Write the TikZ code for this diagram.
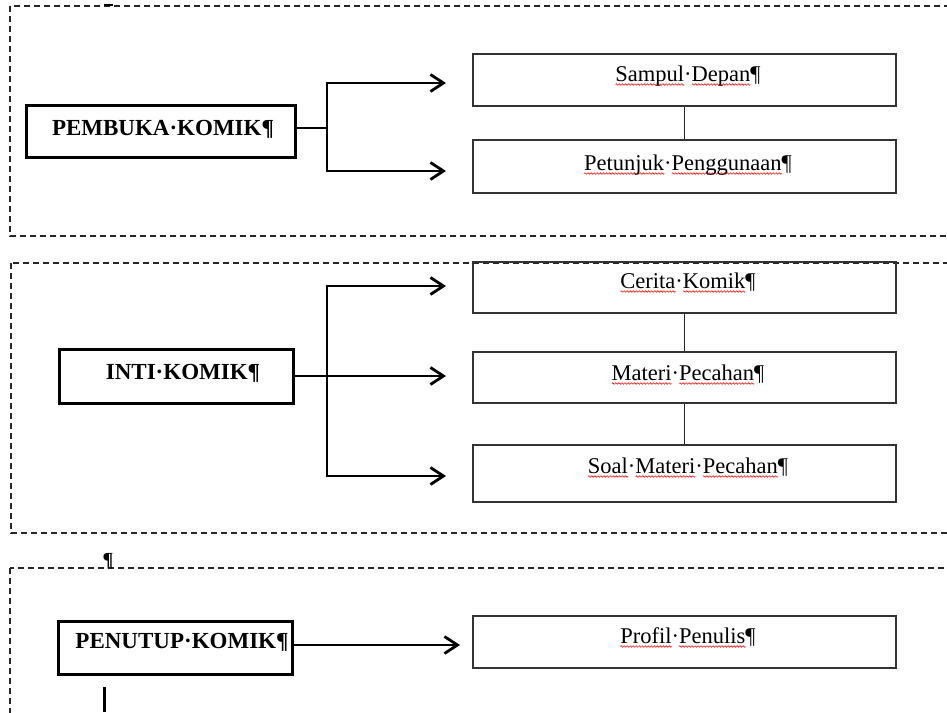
\documentclass[tikz,border=0pt]{standalone}
\usepackage{fontspec}
\setmainfont{Liberation Serif}
\usetikzlibrary{arrows.meta}
\newsavebox\wavebox
\newsavebox\wordbox
\newcommand\rw[1]{\sbox\wordbox{#1}\rlap{\raisebox{-4.5pt}{\hbox to\wd\wordbox{\xleaders\copy\wavebox\hfil}}}#1}
\tikzset{
  dbox/.style={draw=black!85, line width=1.2pt, dash pattern=on 6pt off 4pt},
  mainbox/.style={draw=black, line width=3pt, rectangle, inner sep=0pt, minimum width=234pt},
  subbox/.style={draw=black!80, line width=1.5pt, rectangle, inner sep=0pt, minimum width=423pt},
  lbl/.style={anchor=base, inner sep=0pt, font=\fontsize{22.5}{24}\selectfont},
  blbl/.style={anchor=base, inner sep=0pt, font=\fontsize{23}{24}\selectfont\bfseries},
  conn/.style={line width=2.8pt, draw=black},
  arr/.style={conn, -{Straight Barb[length=13pt,width=17pt,line width=2.8pt]}},
  link/.style={line width=1.4pt, draw=black!85}
}
\begin{document}
\sbox\wavebox{\begin{pgfpicture}%
\pgfpathrectangle{\pgfpoint{0pt}{-1pt}}{\pgfpoint{3pt}{2pt}}\pgfusepath{use as bounding box}%
\pgfsetlinewidth{0.6pt}\pgfsetstrokecolor{red}%
\pgfpathmoveto{\pgfpoint{0pt}{0pt}}%
\pgfpathsine{\pgfpoint{0.75pt}{0.8pt}}\pgfpathcosine{\pgfpoint{0.75pt}{-0.8pt}}%
\pgfpathsine{\pgfpoint{0.75pt}{-0.8pt}}\pgfpathcosine{\pgfpoint{0.75pt}{0.8pt}}%
\pgfusepath{stroke}%
\end{pgfpicture}}%
\begin{tikzpicture}[x=1pt,y=-1pt]
\useasboundingbox (0,0) rectangle (947,712);
\clip (0,0) rectangle (947,712);
% dashed frames
\draw[dbox] (10,6) rectangle (990,236);
\draw[dbox] (11,263) rectangle (990,533);
\draw[dbox] (10,568) rectangle (990,760);
\draw[line width=2.4pt] (104,5) -- (113,5);

% main boxes
\node[mainbox, minimum width=269pt, minimum height=52pt] (pembuka) at (160.5,131) {};
\node[mainbox, minimum height=54pt] (inti) at (176,376) {};
\node[mainbox, minimum height=53pt] (penutup) at (175,647.5) {};
\node[blbl] (tpembuka) at (163,135) {PEMBUKA·KOMIK¶};
\node[blbl] (tinti) at (183,379) {INTI·KOMIK¶};
\node[blbl] (tpenutup) at (182,648) {PENUTUP·KOMIK¶};

% right boxes
\node[subbox, minimum height=52pt] (sampul) at (684.5,80) {};
\node[subbox, minimum height=53pt] (petunjuk) at (684.5,166.5) {};
\node[subbox, minimum height=51pt] (cerita) at (684.5,287.5) {};
\node[subbox, minimum height=51pt] (materi) at (684.5,377.5) {};
\node[subbox, minimum height=57pt] (soal) at (684.5,473.5) {};
\node[subbox, minimum height=52pt] (profil) at (684.5,642) {};
\node[lbl] (tsampul) at (688,81) {\rw{Sampul}·\rw{Depan}¶};
\node[lbl] (tpetunjuk) at (688,170) {\rw{Petunjuk}·\rw{Penggunaan}¶};
\node[lbl] (tcerita) at (688,288) {\rw{Cerita}·\rw{Komik}¶};
\node[lbl] (tmateri) at (688,380) {\rw{Materi}·\rw{Pecahan}¶};
\node[lbl] (tsoal) at (688,473) {\rw{Soal}·\rw{Materi}·\rw{Pecahan}¶};
\node[lbl] (tprofil) at (688,643) {\rw{Profil}·\rw{Penulis}¶};

% links between right boxes
\draw[link] (sampul) -- (petunjuk);
\draw[link] (cerita) -- (materi);
\draw[link] (materi) -- (soal);

% connectors
\coordinate (j1) at (327,128);
\coordinate (t1) at (446,83);
\coordinate (t2) at (446,171);
\draw[conn] ([yshift=3pt]pembuka.east) -- (j1);
\draw[arr] (j1) |- (t1);
\draw[arr] (j1) |- (t2);

\coordinate (j2) at (327,376);
\coordinate (t3) at (446,286);
\coordinate (t4) at (446,376);
\coordinate (t5) at (446,476);
\draw[conn] (inti.east) -- (j2);
\draw[arr] (j2) |- (t3);
\draw[arr] (j2) -- (t4);
\draw[arr] (j2) |- (t5);

\coordinate (t6) at (460,645);
\draw[arr] ([yshift=2.5pt]penutup.east) -- (t6);

% stray marks
\node[blbl, font=\fontsize{20}{22}\selectfont\bfseries] (pil) at (108,566) {¶};
\draw[line width=3pt] (104,687) -- (104,712);
\end{tikzpicture}
\end{document}
